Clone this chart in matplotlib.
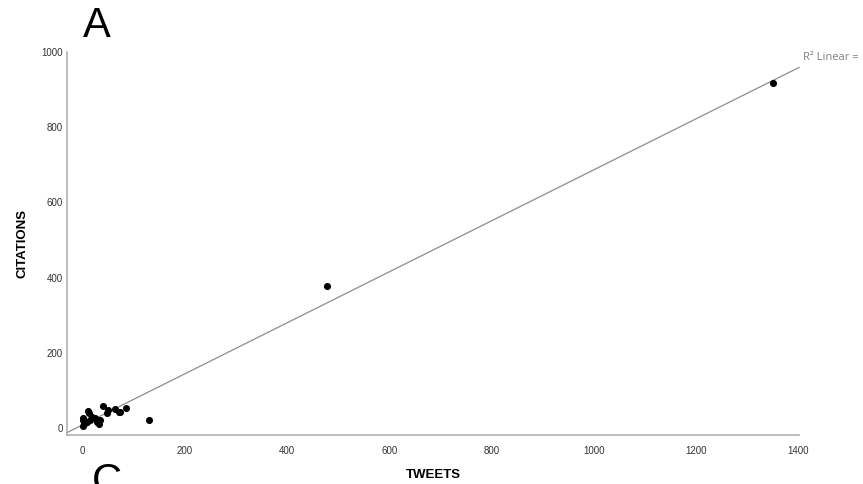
import numpy as np
import matplotlib
matplotlib.use("Agg")
import matplotlib.pyplot as plt

plt.rcParams["font.family"] = ["Liberation Sans", "DejaVu Sans"]

# Scatter of tweets vs citations, with linear fit
tweets = [40, 11, 13, 1, 0, 0, 8, 14, 24, 27, 31, 34, 47, 50, 63, 70, 73, 85,
          130, 478, 1350, 5, 18, 3]
citations = [58, 45, 39, 26, 21, 6, 17, 21, 26, 17, 10, 21, 39, 48, 50, 43, 42, 52,
             21, 378, 917, 12, 30, 14]
xticks = [0, 200, 400, 600, 800, 1000, 1200, 1400]
yticks = [0, 200, 400, 600, 800, 1000]

fig = plt.figure(figsize=(8.63, 4.84), dpi=100, facecolor="white")
ax = fig.add_axes([0.0776, 0.101, 0.8484, 0.7916])

xlim = (-31, 1402)
ylim = (-19, 1000)
ax.set_xlim(*xlim)
ax.set_ylim(*ylim)

# linear fit across the full x range
slope, icpt = np.polyfit(tweets, citations, 1)
xs = np.array(xlim, dtype=float)
ax.plot(xs, icpt + slope * xs, color="#8c8c8c", linewidth=0.9, zorder=2,
        clip_on=False)

ax.scatter(tweets, citations, s=26, color="black", zorder=3, linewidths=0)

for side in ["top", "right"]:
    ax.spines[side].set_visible(False)
for side in ["left", "bottom"]:
    ax.spines[side].set_color("#b0b0b0")
    ax.spines[side].set_linewidth(1.2)

ax.set_xticks(xticks)
ax.set_yticks(yticks)
ax.tick_params(length=0, labelsize=7, labelcolor="#333333")
ax.tick_params(axis="x", pad=8)
ax.tick_params(axis="y", pad=3)
ax.set_xlabel("TWEETS", fontsize=9.5, fontweight="bold", labelpad=9)
ax.set_ylabel("CITATIONS", fontsize=9.5, fontweight="bold", labelpad=9)

fig.text(803 / 863, 1 - 58 / 484, "R\u00b2 Linear =", fontsize=8, color="#808080",
         ha="left", va="center", family=["Open Sans", "DejaVu Sans"])
fig.text(97 / 863, 1 - 26 / 484, "A", fontsize=30, ha="center", va="center")
fig.text(107 / 863, 1 - 482 / 484, "C", fontsize=30, ha="center", va="center")

fig.savefig("out.png", dpi=100)
